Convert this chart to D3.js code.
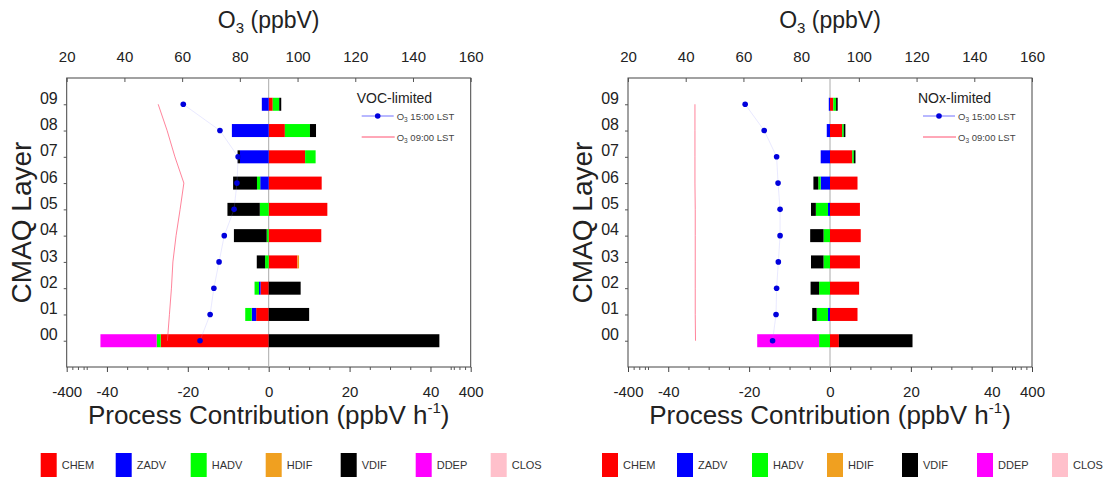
<!DOCTYPE html>
<html>
<head>
<meta charset="utf-8">
<script src="https://cdn.jsdelivr.net/npm/d3@7"></script>
<style>
  body { margin: 0; background: #fff; }
  svg { font-family: "Liberation Sans", Arial, Helvetica, sans-serif; }
</style>
</head>
<body>
<div id="chart"></div>
<script>
// layers 00..09
var layers = [0, 1, 2, 3, 4, 5, 6, 7, 8, 9];
var processes = ['CHEM', 'ZADV', 'HADV', 'HDIF', 'VDIF', 'DDEP', 'CLOS'];
var procColors = ['#ff0000', '#0000ff', '#00ff00', '#f0a020', '#000000', '#ff00ff', '#ffc0cb'];

// VOC-limited panel (ppbV h-1)
var vocCHEM = [-26.7, -3.1, -2.0, 7.1, 13.0, 14.5, 13.1, 9.0, 4.0, 1.0];
var vocZADV = [0, -1.1, -0.4, 0, 0, 0, -2.1, -7.1, -9.1, -1.7];
var vocHADV = [-1.0, -1.6, -1.1, -0.9, -0.5, -2.2, -0.8, 2.6, 6.2, 1.6];
var vocHDIF = [0, 0, 0, 0.4, 0, 0, 0, 0, 0, 0];
var vocVDIF = [42.2, 10.0, 7.9, -2.05, -8.1, -8.0, -5.9, -0.6, 1.5, 0.5];
var vocDDEP = [-13.9, 0, 0, 0, 0, 0, 0, 0, 0, 0];
var vocCLOS = [0, 0, 0, 0, 0, 0, 0, 0, 0, 0];
var vocO3pm = [66.2, 69.7, 71.0, 72.8, 74.6, 78.0, 79.0, 79.4, 73.1, 60.4];
var vocO3am = [54.9, 55.6, 56.3, 56.8, 57.9, 59.3, 60.6, 57.5, 54.8, 51.7];

// NOx-limited panel (ppbV h-1)
var noxCHEM = [2.2, 6.8, 7.2, 7.4, 7.6, 7.4, 6.8, 5.5, 3.0, 0.8];
var noxZADV = [0, -0.5, 0, 0, 0, -0.5, -2.3, -2.3, -0.8, -0.3];
var noxHADV = [-2.7, -2.8, -2.7, -1.6, -1.6, -3.0, -0.6, 0.4, 0.4, 0.7];
var noxHDIF = [0, 0, 0, 0, 0, 0, 0, 0, 0, 0];
var noxVDIF = [18.2, -1.1, -2.1, -3.1, -3.3, -1.2, -1.2, 0.4, 0.4, 0.4];
var noxDDEP = [-15.3, 0, 0, 0, 0, 0, 0, 0, 0, 0];
var noxCLOS = [0, 0, 0, 0, 0, 0, 0, 0, 0, 0];
var noxO3pm = [70.1, 71.3, 71.5, 72.1, 72.7, 72.7, 72.0, 71.5, 67.2, 60.6];
var noxO3am = [43.4, 43.3, 43.3, 43.3, 43.3, 43.3, 43.2, 43.2, 43.2, 43.2];

var o3Ticks = [20, 40, 60, 80, 100, 120, 140, 160];
var pcTicks = [-400, -40, -20, 0, 20, 40, 400];
var pcMinor = [-300, -200, -100, -45, -35, -30, -25, -15, -10, -5, 5, 10, 15, 25, 30, 35, 45, 100, 200, 300];

var width = 1104, height = 479;
var plotTop = 78, plotBottom = 367, pw = 404;

var svg = d3.select('#chart').append('svg')
  .attr('width', width)
  .attr('height', height);

function drawPanel(x0, label, series, o3pm, o3am) {
  var g = svg.append('g');
  var x = d3.scaleLinear().domain([-400, -45, 45, 400]).range([x0, x0 + 20, x0 + pw - 20, x0 + pw]);
  var xo = d3.scaleLinear().domain([20, 160]).range([x0, x0 + pw]);
  var y = d3.scaleLinear().domain([-1, 10]).range([plotBottom, plotTop]);
  var bh = 13;

  var rows = layers.map(function(l, i) {
    var r = { layer: l };
    processes.forEach(function(p, k) { r[p] = series[k][i]; });
    return r;
  });
  var stacked = d3.stack().keys(processes).offset(d3.stackOffsetDiverging)(rows);

  // frame
  g.append('rect')
    .attr('x', x0).attr('y', plotTop)
    .attr('width', pw).attr('height', plotBottom - plotTop)
    .attr('fill', 'none').attr('stroke', '#444').attr('stroke-width', 1);

  // zero line
  g.append('line')
    .attr('x1', x(0)).attr('x2', x(0))
    .attr('y1', plotTop).attr('y2', plotBottom)
    .attr('stroke', '#aaa').attr('stroke-width', 1);

  // bars
  g.selectAll('g.proc')
    .data(stacked)
    .enter().append('g')
      .attr('fill', function(d, i) { return procColors[i]; })
    .selectAll('rect')
    .data(function(d) { return d; })
    .enter().append('rect')
      .attr('x', function(d) { return x(Math.min(d[0], d[1])); })
      .attr('y', function(d) { return y(d.data.layer) - bh / 2; })
      .attr('width', function(d) { return Math.abs(x(d[1]) - x(d[0])); })
      .attr('height', bh);

  // O3 09:00 line
  var line = d3.line()
    .x(function(d) { return xo(d); })
    .y(function(d, i) { return y(layers[i]); });
  g.append('path')
    .attr('d', line(o3am))
    .attr('fill', 'none')
    .attr('stroke', '#ff5070').attr('stroke-width', 1).attr('opacity', 0.7);

  // O3 15:00 line + dots
  g.append('path')
    .attr('d', line(o3pm))
    .attr('fill', 'none')
    .attr('stroke', '#9090ff').attr('stroke-width', 0.8).attr('opacity', 0.25);
  g.selectAll('circle.o3')
    .data(o3pm)
    .enter().append('circle')
      .attr('cx', function(d) { return xo(d); })
      .attr('cy', function(d, i) { return y(layers[i]); })
      .attr('r', 2.8)
      .attr('fill', '#0000dd');

  // top axis
  var topAxis = g.append('g')
    .attr('transform', 'translate(0,' + plotTop + ')')
    .call(d3.axisTop(xo).tickValues(o3Ticks).tickSize(-4).tickPadding(16));
  topAxis.select('.domain').remove();
  topAxis.selectAll('line').attr('stroke', '#555');
  topAxis.selectAll('text').attr('font-size', 15).attr('fill', '#222');

  // bottom axis
  var botAxis = g.append('g')
    .attr('transform', 'translate(0,' + plotBottom + ')')
    .call(d3.axisBottom(x).tickValues(pcTicks).tickFormat(d3.format('d')).tickSize(5).tickPadding(14));
  botAxis.select('.domain').remove();
  botAxis.selectAll('line').attr('stroke', '#444');
  botAxis.selectAll('text').attr('font-size', 15).attr('fill', '#222')
    .text(function(d) { return d < 0 ? '-' + Math.abs(d) : d; });
  var minAxis = g.append('g')
    .attr('transform', 'translate(0,' + plotBottom + ')')
    .call(d3.axisBottom(x).tickValues(pcMinor).tickFormat('').tickSize(3));
  minAxis.select('.domain').remove();
  minAxis.selectAll('line').attr('stroke', '#555');

  // left axis
  var leftAxis = g.append('g')
    .attr('transform', 'translate(' + x0 + ',0)')
    .call(d3.axisLeft(y).tickValues(layers).tickFormat(d3.format('02d')).tickSize(3).tickPadding(6));
  leftAxis.select('.domain').remove();
  leftAxis.selectAll('line').attr('stroke', '#555');
  leftAxis.selectAll('text').attr('font-size', 16).attr('fill', '#222').attr('y', -6);

  // titles
  var t1 = g.append('text')
    .attr('x', x0 + pw / 2).attr('y', 28)
    .attr('text-anchor', 'middle').attr('font-size', 23).attr('fill', '#222');
  t1.append('tspan').text('O');
  t1.append('tspan').attr('font-size', 15).attr('dy', 5).text('3');
  t1.append('tspan').attr('dy', -5).text(' (ppbV)');

  var t2 = g.append('text')
    .attr('x', x0 + pw / 2).attr('y', 424)
    .attr('text-anchor', 'middle').attr('font-size', 26).attr('fill', '#222');
  t2.append('tspan').text('Process Contribution (ppbV h');
  t2.append('tspan').attr('font-size', 15).attr('dy', -11).text('-1');
  t2.append('tspan').attr('dy', 11).text(')');

  g.append('text')
    .attr('transform', 'translate(' + (x0 - 36) + ',' + ((plotTop + plotBottom) / 2) + ') rotate(-90)')
    .attr('text-anchor', 'middle').attr('font-size', 28).attr('fill', '#222')
    .text('CMAQ Layer');

  // inner legend
  g.append('text')
    .attr('x', x0 + 290).attr('y', 103)
    .attr('font-size', 14).attr('fill', '#222')
    .text(label);
  g.append('line')
    .attr('x1', x0 + 295).attr('x2', x0 + 327).attr('y1', 116).attr('y2', 116)
    .attr('stroke', '#7070ff').attr('stroke-width', 1);
  g.append('circle')
    .attr('cx', x0 + 311).attr('cy', 116).attr('r', 2.8).attr('fill', '#0000dd');
  g.append('line')
    .attr('x1', x0 + 295).attr('x2', x0 + 328).attr('y1', 137).attr('y2', 137)
    .attr('stroke', '#ff5070').attr('stroke-width', 1);
  [['15:00 LST', 116], ['09:00 LST', 137]].forEach(function(e) {
    var t = g.append('text')
      .attr('x', x0 + 330).attr('y', e[1] + 3.5)
      .attr('font-size', 9.5).attr('fill', '#444');
    t.append('tspan').text('O');
    t.append('tspan').attr('font-size', 6.5).attr('dy', 2).text('3');
    t.append('tspan').attr('dy', -2).text(' ' + e[0]);
  });

  // bottom legend
  var leg = g.selectAll('g.leg')
    .data(processes)
    .enter().append('g')
      .attr('transform', function(d, i) { return 'translate(' + (x0 - 26 + i * 75) + ',453)'; });
  leg.append('rect')
    .attr('width', 16).attr('height', 24)
    .attr('fill', function(d, i) { return procColors[i]; });
  leg.append('text')
    .attr('x', 21).attr('y', 16)
    .attr('font-size', 11).attr('fill', '#333')
    .text(function(d) { return d; });
}

drawPanel(66.7, 'VOC-limited',
  [vocCHEM, vocZADV, vocHADV, vocHDIF, vocVDIF, vocDDEP, vocCLOS], vocO3pm, vocO3am);
drawPanel(628, 'NOx-limited',
  [noxCHEM, noxZADV, noxHADV, noxHDIF, noxVDIF, noxDDEP, noxCLOS], noxO3pm, noxO3am);
</script>
</body>
</html>
